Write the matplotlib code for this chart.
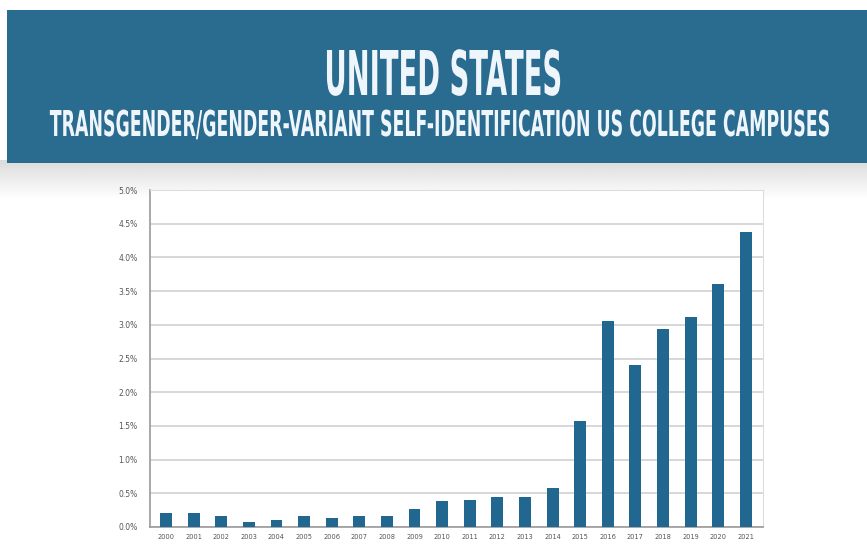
import numpy as np
import matplotlib
matplotlib.use("Agg")
import matplotlib.pyplot as plt
from matplotlib.patches import Rectangle
from matplotlib.patheffects import AbstractPathEffect
from matplotlib.transforms import Affine2D

# data (percent of students)
years = [str(y) for y in range(2000, 2022)]
share = [0.21, 0.21, 0.17, 0.07, 0.10, 0.17, 0.14, 0.17, 0.17, 0.27, 0.38,
         0.40, 0.45, 0.45, 0.58, 1.58, 3.06, 2.40, 2.94, 3.12, 3.61, 4.37]
ytick_vals = np.arange(0, 5.01, 0.5)
ytick_labels = ["%.1f%%" % v for v in ytick_vals]

title = "UNITED STATES"
subtitle = "TRANSGENDER/GENDER-VARIANT SELF-IDENTIFICATION US COLLEGE CAMPUSES"

BANNER = "#2a6b90"
BAR = "#21678f"
W, H = 867, 560


class Stretch(AbstractPathEffect):
    """Stretch the glyphs vertically about a baseline y (display px)."""
    def __init__(self, sy, cy):
        super().__init__()
        self.sy = sy
        self.cy = cy

    def draw_path(self, renderer, gc, tpath, affine, rgbFace=None):
        t = affine + Affine2D().translate(0, -self.cy).scale(1, self.sy).translate(0, self.cy)
        renderer.draw_path(gc, tpath, t, rgbFace)


fig = plt.figure(figsize=(W / 100, H / 100), dpi=100)

# background layer in pixel coordinates
bg = fig.add_axes([0, 0, 1, 1], zorder=0)
grad = np.linspace(0.86, 1.0, 40).reshape(-1, 1)
bg.imshow(grad, cmap="gray", vmin=0, vmax=1, extent=[0, W, 200, 160],
          aspect="auto", interpolation="bilinear")
bg.add_patch(Rectangle((7, 10), W - 7, 153, color=BANNER, lw=0))
bg.set_xlim(0, W)
bg.set_ylim(H, 0)
bg.axis("off")

# header texts: size set to fit the width, then stretched to the tall condensed look
headers = [(title, 443, 95, 237, 45), (subtitle, 441, 136, 778, 26)]
for txt, cx, base, target_w, cap_h in headers:
    t = fig.text(cx / W, 1 - base / H, txt, ha="center", va="baseline",
                 fontsize=20, fontweight="bold", color="#eef6fb", family="DejaVu Sans")
    fig.canvas.draw()
    size = 20 * target_w / t.get_window_extent().width
    t.set_fontsize(size)
    sy = cap_h / (0.729 * size * 100 / 72)
    t.set_path_effects([Stretch(sy, H - base)])

# chart
ax = fig.add_axes([150 / W, 1 - 527 / H, 613 / W, 337 / H], zorder=2)
ax.set_facecolor("white")
x = np.arange(len(years))
ax.bar(x, share, width=0.43, color=BAR, zorder=3)
ax.set_xlim(-0.58, len(years) - 1 + 0.62)
ax.set_ylim(0, 5)
ax.set_yticks(ytick_vals)
ax.set_yticklabels(ytick_labels)
ax.set_xticks(x)
ax.set_xticklabels(years)
ax.tick_params(axis="y", length=0, pad=9, labelsize=5.5, labelcolor="#555555")
ax.tick_params(axis="x", length=0, pad=5, labelsize=4.8, labelcolor="#555555")
ax.yaxis.grid(True, color="#d4d4d4", lw=1.3, zorder=0)
ax.set_axisbelow(True)
for s in ["top", "right"]:
    ax.spines[s].set_color("#dddddd")
for s in ["left", "bottom"]:
    ax.spines[s].set_color("#9a9a9a")
    ax.spines[s].set_linewidth(1.2)

fig.savefig("out.png", dpi=100, facecolor="white")
